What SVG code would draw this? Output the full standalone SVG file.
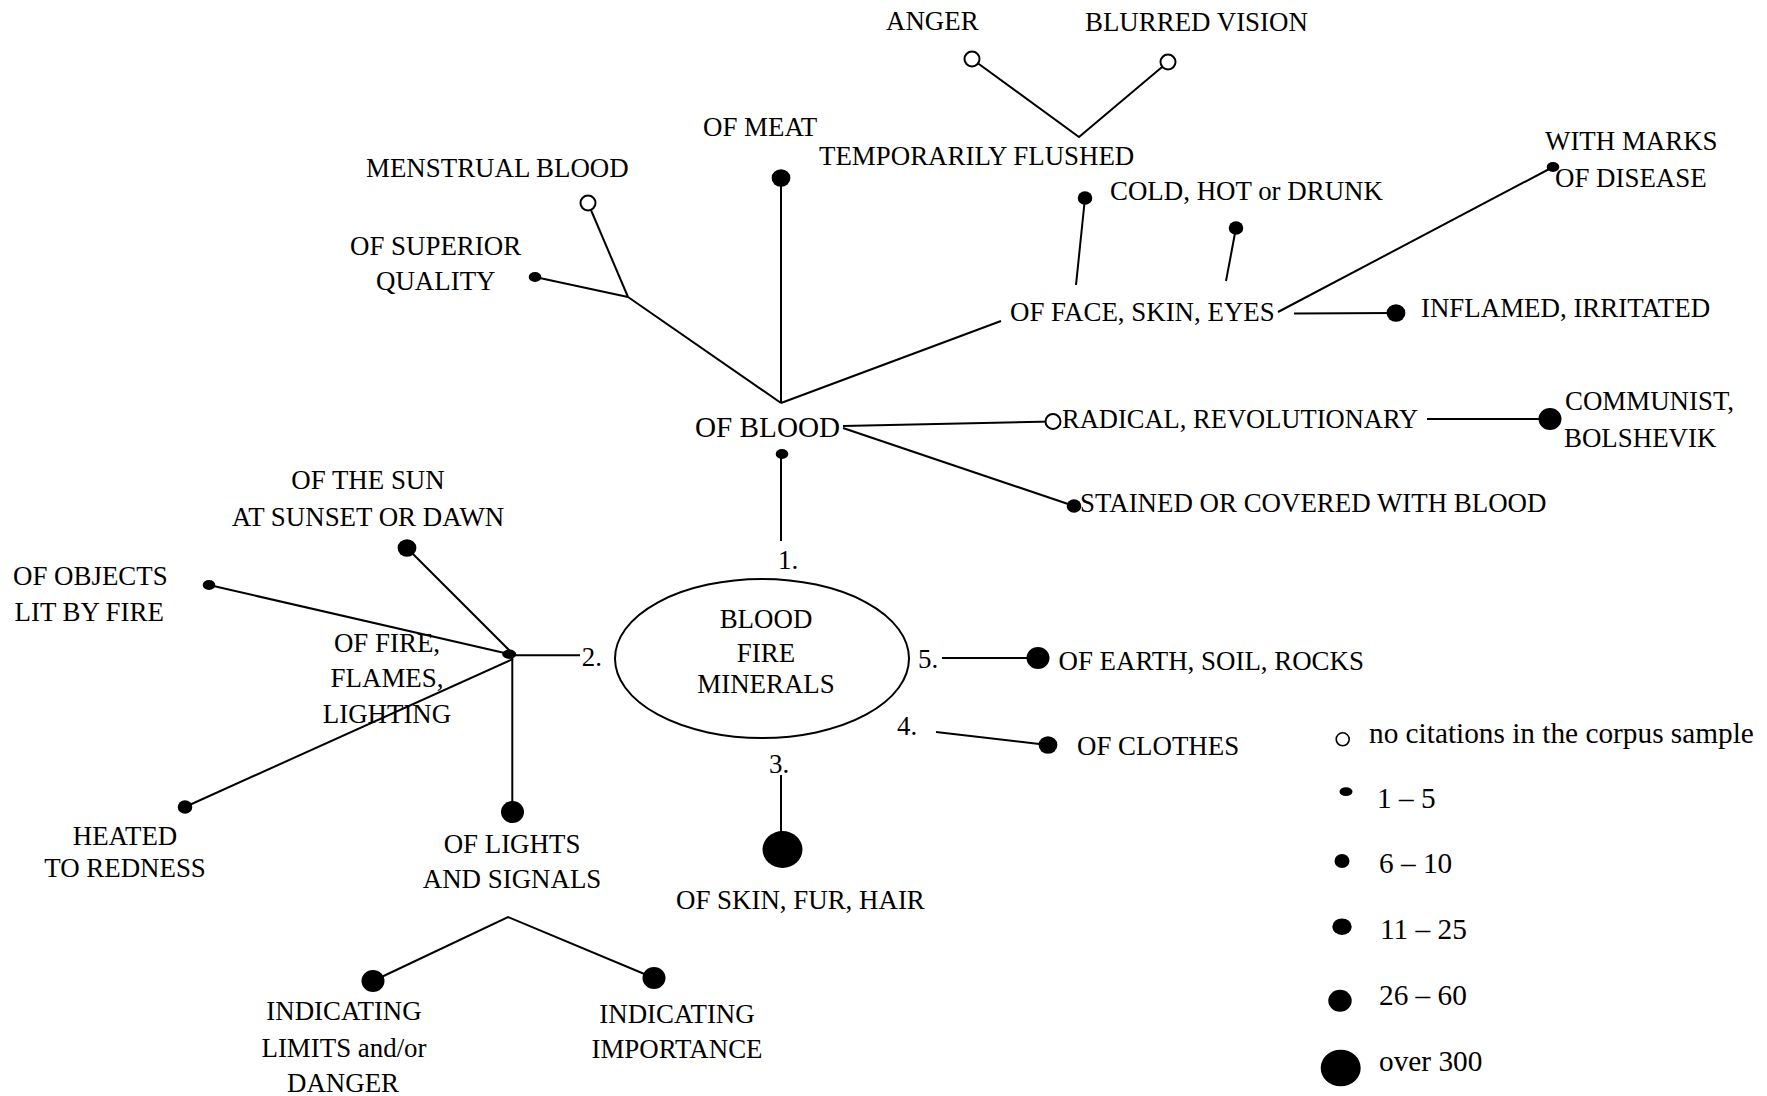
<svg xmlns="http://www.w3.org/2000/svg" xmlns:xlink="http://www.w3.org/1999/xlink" width="1767" height="1096" viewBox="0 0 1767 1096">
<style>
  text { font-family: "Liberation Serif", "Times New Roman", serif; font-size: 26.9px; fill: #000; }
  .big { font-size: 29.2px; }
  .leg { font-size: 29.3px; }
  .sm { font-size: 26.5px; }
  .mid { text-anchor: middle; }
  .ln { stroke: #000; stroke-width: 2; fill: none; }
  .open { fill: #fff; stroke: #000; stroke-width: 2; }
  .dot { fill: #000; }
</style>
<defs>
  <ellipse id="d1" rx="6.3" ry="5" class="dot"/>
  <ellipse id="d2" rx="7.3" ry="6.8" class="dot"/>
  <ellipse id="d3" rx="9.4" ry="8.7" class="dot"/>
  <ellipse id="d4" rx="11.5" ry="11" class="dot"/>
  <ellipse id="d5" rx="20" ry="18.5" class="dot"/>
  <circle id="o1" r="7.5" class="open"/>
</defs>
<rect width="1767" height="1096" fill="#fff"/>

<g id="connectors" class="ln">
  <polyline points="972,59 1079,137 1168,62"/>
  <line x1="781" y1="178" x2="781" y2="403"/>
  <line x1="588" y1="203" x2="628" y2="297"/>
  <line x1="535" y1="277" x2="628" y2="297"/>
  <line x1="628" y1="297" x2="781" y2="403"/>
  <line x1="781" y1="403" x2="1001" y2="321"/>
  <line x1="1085" y1="198" x2="1076" y2="285"/>
  <line x1="1236" y1="228" x2="1226" y2="281"/>
  <line x1="1278" y1="312" x2="1553" y2="167"/>
  <line x1="1294" y1="313.5" x2="1396" y2="313"/>
  <line x1="843" y1="426" x2="1053" y2="421.5"/>
  <line x1="843" y1="428" x2="1074" y2="506"/>
  <line x1="1427" y1="419" x2="1550" y2="419"/>
  <line x1="781" y1="454" x2="781" y2="541"/>
  <line x1="407" y1="548" x2="513" y2="654"/>
  <line x1="209" y1="585" x2="509" y2="654"/>
  <line x1="185" y1="807" x2="513" y2="659"/>
  <line x1="512.3" y1="656" x2="512.3" y2="812"/>
  <line x1="512" y1="655.3" x2="580" y2="655.3"/>
  <polyline points="373,981 508,917 654,978"/>
  <line x1="942" y1="658" x2="1038" y2="658"/>
  <line x1="936" y1="732" x2="1048" y2="745"/>
  <line x1="781" y1="775" x2="781" y2="849"/>
</g>

<g id="node-center">
  <ellipse cx="762" cy="658.5" rx="147" ry="79.5" class="ln"/>
  <text x="766" y="628" class="mid">BLOOD</text>
  <text x="766" y="662" class="mid">FIRE</text>
  <text x="766" y="693" class="mid">MINERALS</text>
</g>

<g id="node-1"><text x="778" y="569">1.</text></g>
<g id="node-2"><text x="581.7" y="665.7">2.</text></g>
<g id="node-3"><text x="769" y="773">3.</text></g>
<g id="node-4"><text x="897" y="735">4.</text></g>
<g id="node-5"><text x="918" y="668">5.</text></g>

<g id="node-of-blood">
  <use href="#d1" xlink:href="#d1" x="782" y="454"/>
  <text x="695" y="437" class="big">OF BLOOD</text>
</g>
<g id="node-anger">
  <use href="#o1" xlink:href="#o1" x="972" y="59"/>
  <text x="886" y="30">ANGER</text>
</g>
<g id="node-blurred">
  <use href="#o1" xlink:href="#o1" x="1168" y="62"/>
  <text x="1085" y="31">BLURRED VISION</text>
</g>
<g id="node-flushed"><text x="819" y="165">TEMPORARILY FLUSHED</text></g>
<g id="node-meat">
  <use href="#d3" xlink:href="#d3" x="781" y="178"/>
  <text x="703" y="136">OF MEAT</text>
</g>
<g id="node-menstrual">
  <use href="#o1" xlink:href="#o1" x="588" y="203"/>
  <text x="366" y="177">MENSTRUAL BLOOD</text>
</g>
<g id="node-superior">
  <use href="#d1" xlink:href="#d1" x="535" y="277"/>
  <text x="350" y="255">OF SUPERIOR</text>
  <text x="376" y="290">QUALITY</text>
</g>
<g id="node-face">
  <text x="1010" y="321">OF FACE, SKIN, EYES</text>
</g>
<g id="node-cold">
  <use href="#d2" xlink:href="#d2" x="1085" y="198"/>
  <use href="#d2" xlink:href="#d2" x="1236" y="228"/>
  <text x="1110" y="200">COLD, HOT or DRUNK</text>
</g>
<g id="node-disease">
  <use href="#d1" xlink:href="#d1" x="1553" y="167"/>
  <text x="1545" y="150">WITH MARKS</text>
  <text x="1555" y="187">OF DISEASE</text>
</g>
<g id="node-inflamed">
  <use href="#d3" xlink:href="#d3" x="1396" y="313"/>
  <text x="1421" y="317">INFLAMED, IRRITATED</text>
</g>
<g id="node-radical">
  <use href="#o1" xlink:href="#o1" x="1053" y="421.5"/>
  <text x="1062" y="428" class="sm">RADICAL, REVOLUTIONARY</text>
</g>
<g id="node-communist">
  <use href="#d4" xlink:href="#d4" x="1550" y="419"/>
  <text x="1565" y="410">COMMUNIST,</text>
  <text x="1564" y="447">BOLSHEVIK</text>
</g>
<g id="node-stained">
  <use href="#d2" xlink:href="#d2" x="1074" y="506"/>
  <text x="1080" y="512">STAINED OR COVERED WITH BLOOD</text>
</g>

<g id="node-fire">
  <ellipse cx="509.3" cy="654.3" rx="7" ry="4.7" class="dot"/>
  <text x="387" y="652" class="mid">OF FIRE,</text>
  <text x="387" y="687" class="mid">FLAMES,</text>
  <text x="387" y="723" class="mid">LIGHTING</text>
</g>
<g id="node-sun">
  <use href="#d3" xlink:href="#d3" x="407" y="548"/>
  <text x="368" y="489" class="mid">OF THE SUN</text>
  <text x="368" y="526" class="mid">AT SUNSET OR DAWN</text>
</g>
<g id="node-objects">
  <use href="#d1" xlink:href="#d1" x="209" y="585"/>
  <text x="13" y="585">OF OBJECTS</text>
  <text x="14.5" y="621">LIT BY FIRE</text>
</g>
<g id="node-heated">
  <use href="#d2" xlink:href="#d2" x="185" y="807"/>
  <text x="125" y="845" class="mid">HEATED</text>
  <text x="125" y="877" class="mid">TO REDNESS</text>
</g>
<g id="node-lights">
  <use href="#d4" xlink:href="#d4" x="512.5" y="812"/>
  <text x="512" y="853" class="mid">OF LIGHTS</text>
  <text x="512" y="888" class="mid">AND SIGNALS</text>
</g>
<g id="node-limits">
  <use href="#d4" xlink:href="#d4" x="373" y="981"/>
  <text x="344" y="1020" class="mid">INDICATING</text>
  <text x="344" y="1057" class="mid">LIMITS and/or</text>
  <text x="343" y="1092" class="mid">DANGER</text>
</g>
<g id="node-importance">
  <use href="#d4" xlink:href="#d4" x="654" y="978"/>
  <text x="677" y="1023" class="mid">INDICATING</text>
  <text x="677" y="1058" class="mid">IMPORTANCE</text>
</g>
<g id="node-skin">
  <use href="#d5" xlink:href="#d5" x="782.5" y="849.5"/>
  <text x="676" y="909">OF SKIN, FUR, HAIR</text>
</g>
<g id="node-earth">
  <use href="#d4" xlink:href="#d4" x="1038" y="658"/>
  <text x="1058.5" y="670">OF EARTH, SOIL, ROCKS</text>
</g>
<g id="node-clothes">
  <use href="#d3" xlink:href="#d3" x="1048" y="745"/>
  <text x="1077" y="755">OF CLOTHES</text>
</g>

<g id="legend">
  <circle cx="1342.7" cy="739.3" r="6.5" fill="#fff" stroke="#000" stroke-width="1.6"/>
  <text x="1369" y="743" class="leg">no citations in the corpus sample</text>
  <ellipse cx="1346" cy="791.7" rx="6.5" ry="4.4" class="dot"/>
  <text x="1377" y="808" class="leg">1 – 5</text>
  <ellipse cx="1342" cy="861" rx="7.5" ry="7" class="dot"/>
  <text x="1379" y="873" class="leg">6 – 10</text>
  <ellipse cx="1342" cy="926.7" rx="9.7" ry="8.3" class="dot"/>
  <text x="1380" y="939" class="leg">11 – 25</text>
  <ellipse cx="1340" cy="1000.7" rx="11.7" ry="11" class="dot"/>
  <text x="1379" y="1005" class="leg">26 – 60</text>
  <ellipse cx="1340.7" cy="1068" rx="20" ry="18.3" class="dot"/>
  <text x="1379" y="1071" class="leg">over 300</text>
</g>
</svg>
